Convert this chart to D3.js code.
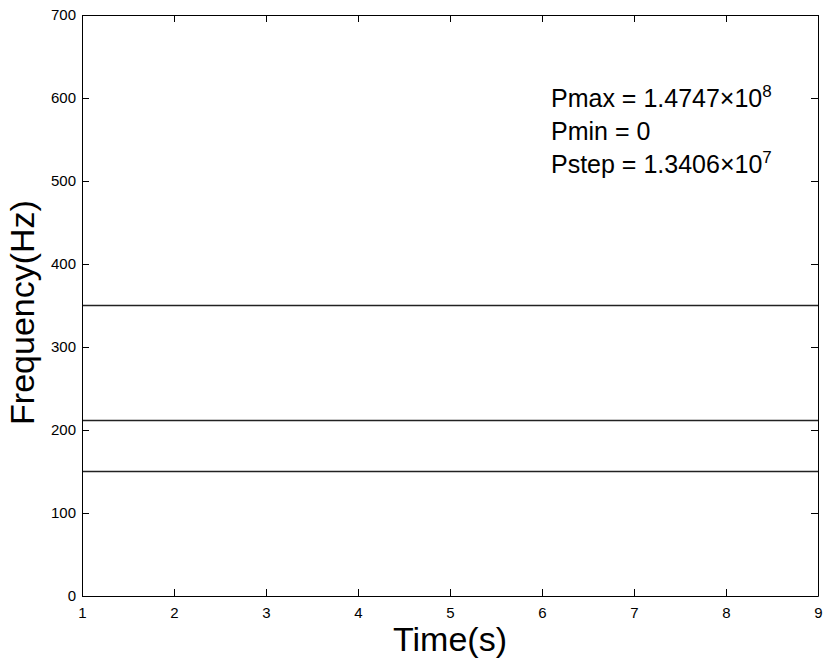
<!DOCTYPE html>
<html><head><meta charset="utf-8">
<script src="https://cdn.jsdelivr.net/npm/d3@7"></script>
<style>body{margin:0;background:#fff}svg{display:block}text{font-family:"Liberation Sans",Arial,Helvetica,sans-serif}</style>
</head><body>
<script>
const xTicks = [1,2,3,4,5,6,7,8,9];
const yTicks = [0,100,200,300,400,500,600,700];
const freqLines = [350, 211.5, 150];
const timeRange = [1, 9];
const annotations = [
  {base:"Pmax = 1.4747×10", sup:"8"},
  {base:"Pmin = 0", sup:""},
  {base:"Pstep = 1.3406×10", sup:"7"}
];

const W=830,H=660, m={l:82,r:12,t:15,b:64};
const svg=d3.select("body").append("svg").attr("width",W).attr("height",H);
const x=d3.scaleLinear().domain([1,9]).range([m.l,W-m.r]);
const y=d3.scaleLinear().domain([0,700]).range([H-m.b,m.t]);
const g=svg.append("g");

// horizontal lines
g.selectAll(".fl").data(freqLines).enter().append("line")
 .attr("x1",x(timeRange[0])).attr("x2",x(timeRange[1]))
 .attr("y1",d=>y(d)).attr("y2",d=>y(d))
 .attr("stroke","#222").attr("stroke-width",1.5);

const tl=7;
const ax=(sel)=>sel.selectAll("text").attr("font-size",15).attr("fill","#000");
// bottom axis
const xb=g.append("g").attr("transform",`translate(0,${y(0)})`)
 .call(d3.axisBottom(x).tickValues(xTicks).tickFormat(d3.format("d")).tickSizeInner(-tl).tickSizeOuter(0).tickPadding(10));
ax(xb);
xb.selectAll(".tick text").attr("dy",null).attr("y",22);
const xt=g.append("g").attr("transform",`translate(0,${y(700)})`)
 .call(d3.axisTop(x).tickValues(xTicks).tickFormat("").tickSizeInner(-tl).tickSizeOuter(0));
const yl=g.append("g").attr("transform",`translate(${x(1)},0)`)
 .call(d3.axisLeft(y).tickValues(yTicks).tickFormat(d3.format("d")).tickSizeInner(-tl).tickSizeOuter(0).tickPadding(4));
ax(yl);
yl.selectAll(".tick text").attr("x",-6);
const yr=g.append("g").attr("transform",`translate(${x(9)},0)`)
 .call(d3.axisRight(y).tickValues(yTicks).tickFormat("").tickSizeInner(-tl).tickSizeOuter(0));
[xb,xt,yl,yr].forEach(a=>{a.select(".domain").attr("stroke","#000");a.selectAll(".tick line").attr("stroke","#000");});

// labels
svg.append("text").attr("x",(x(1)+x(9))/2).attr("y",651).attr("text-anchor","middle")
 .attr("font-size",34).text("Time(s)");
svg.append("text").attr("transform",`translate(34,${(y(0)+y(700))/2+7}) rotate(-90)`)
 .attr("text-anchor","middle").attr("font-size",34).text("Frequency(Hz)");

// annotation
const ann=svg.append("g");
annotations.forEach((a,i)=>{
  const t=ann.append("text").attr("x",551).attr("y",[107,140,173][i]).attr("font-size",25);
  t.append("tspan").text(a.base);
  if(a.sup) t.append("tspan").attr("font-size",17).attr("dy",-10).text(a.sup);
});
</script>
</body></html>
